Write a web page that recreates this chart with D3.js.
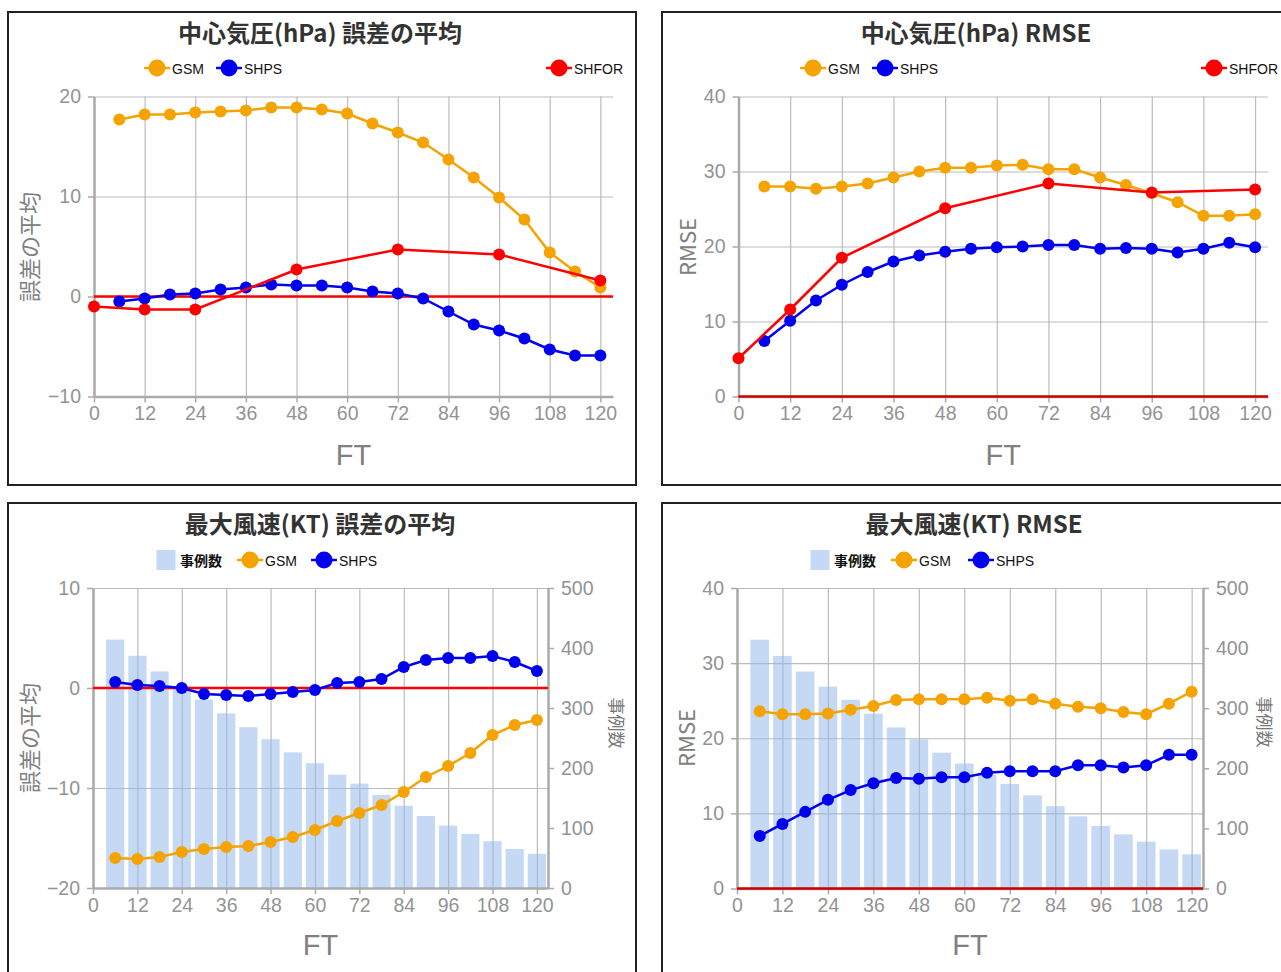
<!DOCTYPE html>
<html>
<head>
<meta charset="utf-8">
<script src="https://cdn.jsdelivr.net/npm/d3@7"></script>
<style>
  body { margin: 0; background: #fff; }
  svg { display: block; }
</style>
</head>
<body>
<svg id="chart" width="1281" height="972"></svg>
<script>
// ---- data -------------------------------------------------------------
const forecastHours = [6, 12, 18, 24, 30, 36, 42, 48, 54, 60, 66, 72, 78, 84, 90, 96, 102, 108, 114, 120];
const shforHours = [0, 12, 24, 48, 72, 96, 120];
const ftTicks = [0, 12, 24, 36, 48, 60, 72, 84, 96, 108, 120];

const pressureBiasTicks = [-10, 0, 10, 20];
const pressureRmseTicks = [0, 10, 20, 30, 40];
const windBiasTicks = [-20, -10, 0, 10];
const windRmseTicks = [0, 10, 20, 30, 40];
const caseCountTicks = [0, 100, 200, 300, 400, 500];

// central pressure (hPa): mean error
const pressureBiasGSM = [17.7, 18.2, 18.2, 18.4, 18.5, 18.6, 18.9, 18.9, 18.7, 18.3, 17.3, 16.4, 15.4, 13.7, 11.9, 9.9, 7.7, 4.4, 2.5, 0.9];
const pressureBiasSHPS = [-0.5, -0.2, 0.2, 0.3, 0.7, 0.9, 1.2, 1.1, 1.1, 0.9, 0.5, 0.3, -0.2, -1.5, -2.8, -3.4, -4.2, -5.3, -5.9, -5.9];
const pressureBiasSHFOR = [-1.0, -1.3, -1.3, 2.7, 4.7, 4.2, 1.6];

// central pressure (hPa): RMSE
const pressureRmseGSM = [28.0, 28.0, 27.7, 28.0, 28.4, 29.2, 30.0, 30.5, 30.5, 30.8, 30.9, 30.3, 30.3, 29.2, 28.2, 27.1, 25.9, 24.1, 24.1, 24.3];
const pressureRmseSHPS = [7.4, 10.1, 12.8, 14.9, 16.6, 18.0, 18.8, 19.3, 19.7, 19.9, 20.0, 20.2, 20.2, 19.7, 19.8, 19.7, 19.2, 19.7, 20.5, 19.9];
const pressureRmseSHFOR = [5.1, 11.6, 18.5, 25.1, 28.4, 27.2, 27.6];

// maximum wind (KT): mean error and RMSE
const windBiasGSM = [-17.0, -17.1, -16.9, -16.4, -16.1, -15.9, -15.8, -15.4, -14.9, -14.2, -13.3, -12.5, -11.7, -10.4, -8.9, -7.8, -6.5, -4.7, -3.7, -3.2];
const windBiasSHPS = [0.6, 0.3, 0.2, 0.0, -0.6, -0.7, -0.8, -0.6, -0.4, -0.2, 0.5, 0.6, 0.9, 2.1, 2.8, 3.0, 3.0, 3.2, 2.6, 1.7];
const windRmseGSM = [23.6, 23.2, 23.2, 23.3, 23.8, 24.3, 25.1, 25.2, 25.2, 25.2, 25.4, 25.0, 25.2, 24.6, 24.2, 24.0, 23.5, 23.2, 24.6, 26.2];
const windRmseSHPS = [7.0, 8.6, 10.2, 11.8, 13.1, 14.0, 14.7, 14.6, 14.8, 14.8, 15.4, 15.6, 15.6, 15.6, 16.4, 16.4, 16.1, 16.4, 17.8, 17.8];

// number of cases per forecast time
const caseCounts = [414, 387, 361, 336, 314, 291, 268, 248, 226, 208, 189, 174, 155, 137, 120, 104, 90, 78, 65, 57];

// ---- styling ----------------------------------------------------------
const COLORS = { GSM: "#f5a300", SHPS: "#0000ee", SHFOR: "#ff0000", bar: "rgb(150,185,235)" };
const LATIN = "'Liberation Sans', Arial, sans-serif";
const CJK = "'Noto Sans CJK JP', 'Noto Sans', sans-serif";

const pair = (hours, values) => hours.map((h, i) => ({ h, v: values[i] }));

const panels = [
  {
    frame: [8, 12, 628, 473],
    plot: { l: 94, r: 613, t: 96.5, b: 396.5 },
    yDomain: [-10, 20], yTicks: pressureBiasTicks,
    title: "中心気圧(hPa) 誤差の平均", titleX: 320, titleY: 31,
    yLabel: "誤差の平均", yLabelPos: [28, 247],
    ftY: 455, zeroColor: "#ff0000",
    legendY: 68,
    legend: [
      { type: "line", key: "GSM", cx: 157 },
      { type: "line", key: "SHPS", cx: 229 },
      { type: "line", key: "SHFOR", cx: 559 }
    ],
    series: [
      { key: "GSM", data: pair(forecastHours, pressureBiasGSM) },
      { key: "SHPS", data: pair(forecastHours, pressureBiasSHPS) },
      { key: "SHFOR", data: pair(shforHours, pressureBiasSHFOR) }
    ]
  },
  {
    frame: [662, 12, 630, 473],
    plot: { l: 738.5, r: 1268, t: 96.5, b: 396.5 },
    yDomain: [0, 40], yTicks: pressureRmseTicks,
    title: "中心気圧(hPa) RMSE", titleX: 976, titleY: 31,
    yLabel: "RMSE", yLabelPos: [686, 247],
    ftY: 455, zeroColor: "#cc0000",
    legendY: 68,
    legend: [
      { type: "line", key: "GSM", cx: 813 },
      { type: "line", key: "SHPS", cx: 885 },
      { type: "line", key: "SHFOR", cx: 1214 }
    ],
    series: [
      { key: "GSM", data: pair(forecastHours, pressureRmseGSM) },
      { key: "SHPS", data: pair(forecastHours, pressureRmseSHPS) },
      { key: "SHFOR", data: pair(shforHours, pressureRmseSHFOR) }
    ]
  },
  {
    frame: [8, 503, 628, 480],
    plot: { l: 93, r: 548, t: 588, b: 888 },
    yDomain: [-20, 10], yTicks: windBiasTicks,
    title: "最大風速(KT) 誤差の平均", titleX: 320, titleY: 522,
    yLabel: "誤差の平均", yLabelPos: [28, 738],
    rightLabel: "事例数", rightLabelPos: [617, 723],
    ftY: 945, zeroColor: "#ff0000",
    legendY: 560,
    counts: pair(forecastHours, caseCounts),
    legend: [
      { type: "bar", label: "事例数", cx: 166 },
      { type: "line", key: "GSM", cx: 250 },
      { type: "line", key: "SHPS", cx: 324 }
    ],
    series: [
      { key: "GSM", data: pair(forecastHours, windBiasGSM) },
      { key: "SHPS", data: pair(forecastHours, windBiasSHPS) }
    ]
  },
  {
    frame: [662, 503, 630, 480],
    plot: { l: 737, r: 1203, t: 588, b: 888.5 },
    yDomain: [0, 40], yTicks: windRmseTicks,
    title: "最大風速(KT) RMSE", titleX: 974, titleY: 522,
    yLabel: "RMSE", yLabelPos: [685, 738],
    rightLabel: "事例数", rightLabelPos: [1265, 722],
    ftY: 945, zeroColor: "#cc0000",
    legendY: 560,
    counts: pair(forecastHours, caseCounts),
    legend: [
      { type: "bar", label: "事例数", cx: 820 },
      { type: "line", key: "GSM", cx: 904 },
      { type: "line", key: "SHPS", cx: 981 }
    ],
    series: [
      { key: "GSM", data: pair(forecastHours, windRmseGSM) },
      { key: "SHPS", data: pair(forecastHours, windRmseSHPS) }
    ]
  }
];

// ---- drawing ----------------------------------------------------------
const svg = d3.select("#chart");
svg.append("rect").attr("width", 1281).attr("height", 972).attr("fill", "#fff");

function styleTicks(sel) {
  sel.selectAll("text")
    .attr("font-family", LATIN)
    .attr("font-size", 19.5)
    .attr("fill", "#939393");
  sel.selectAll(".tick line").attr("stroke", "#aaa").attr("stroke-width", 1.5);
  sel.select(".domain").attr("stroke", "#aaa").attr("stroke-width", 2.5);
}

function drawPanel(p) {
  const g = svg.append("g");
  const [fx, fy, fw, fh] = p.frame;
  g.append("rect")
    .attr("x", fx).attr("y", fy).attr("width", fw).attr("height", fh)
    .attr("fill", "#fff").attr("stroke", "#222").attr("stroke-width", 2);

  const x = d3.scaleLinear().domain([0, 123]).range([p.plot.l, p.plot.r]);
  const y = d3.scaleLinear().domain(p.yDomain).range([p.plot.b, p.plot.t]);
  const plotW = p.plot.r - p.plot.l;
  const plotH = p.plot.b - p.plot.t;

  // grid
  g.append("g")
    .attr("transform", `translate(0,${p.plot.b})`)
    .call(d3.axisBottom(x).tickValues(ftTicks).tickSize(-plotH).tickFormat(""))
    .call(s => { s.select(".domain").remove(); s.selectAll("line").attr("stroke", "#bbb").attr("stroke-width", 1.2); });
  g.append("g")
    .attr("transform", `translate(${p.plot.l},0)`)
    .call(d3.axisLeft(y).tickValues(p.yTicks).tickSize(-plotW).tickFormat(""))
    .call(s => { s.select(".domain").remove(); s.selectAll("line").attr("stroke", "#bbb").attr("stroke-width", 1.2); });

  // case-count bars on the secondary axis
  if (p.counts) {
    const y2 = d3.scaleLinear().domain([0, 500]).range([p.plot.b, p.plot.t]);
    const bw = (x(6) - x(0)) * 0.82;
    g.append("g").selectAll("rect").data(p.counts).enter().append("rect")
      .attr("x", d => x(d.h) - bw / 2)
      .attr("y", d => y2(d.v))
      .attr("width", bw)
      .attr("height", d => y2(0) - y2(d.v))
      .attr("fill", COLORS.bar)
      .attr("fill-opacity", 0.55);

    g.append("g")
      .attr("transform", `translate(${p.plot.r},0)`)
      .call(d3.axisRight(y2).tickValues(caseCountTicks).tickSizeInner(6).tickSizeOuter(0).tickPadding(7))
      .call(styleTicks);
  }

  // axes
  g.append("g")
    .attr("transform", `translate(0,${p.plot.b})`)
    .call(d3.axisBottom(x).tickValues(ftTicks).tickSizeInner(6).tickSizeOuter(0).tickPadding(4))
    .call(styleTicks);
  g.append("g")
    .attr("transform", `translate(${p.plot.l},0)`)
    .call(d3.axisLeft(y).tickValues(p.yTicks).tickSizeInner(6).tickSizeOuter(0).tickPadding(7))
    .call(styleTicks);

  // zero reference line
  g.append("line")
    .attr("x1", p.plot.l).attr("x2", p.plot.r)
    .attr("y1", y(0)).attr("y2", y(0))
    .attr("stroke", p.zeroColor).attr("stroke-width", 2.5);

  // series
  const line = d3.line().x(d => x(d.h)).y(d => y(d.v));
  p.series.forEach(s => {
    const sg = g.append("g");
    sg.append("path")
      .attr("d", line(s.data))
      .attr("fill", "none")
      .attr("stroke", COLORS[s.key])
      .attr("stroke-width", 2.5);
    sg.selectAll("circle").data(s.data).enter().append("circle")
      .attr("cx", d => x(d.h)).attr("cy", d => y(d.v))
      .attr("r", 6)
      .attr("fill", COLORS[s.key]);
  });

  // title
  g.append("text")
    .attr("x", p.titleX).attr("y", p.titleY)
    .attr("text-anchor", "middle").attr("dominant-baseline", "central")
    .attr("font-family", CJK).attr("font-weight", 600).attr("font-size", 24)
    .attr("fill", "#333")
    .text(p.title);

  // legend
  p.legend.forEach(item => {
    const ly = p.legendY;
    if (item.type === "bar") {
      g.append("rect")
        .attr("x", item.cx - 9.5).attr("y", ly - 10).attr("width", 19).attr("height", 20)
        .attr("fill", COLORS.bar).attr("fill-opacity", 0.55);
      g.append("text")
        .attr("x", item.cx + 14).attr("y", ly)
        .attr("dominant-baseline", "central")
        .attr("font-family", CJK).attr("font-weight", 700).attr("font-size", 14)
        .attr("fill", "#111").text(item.label);
    } else {
      g.append("line")
        .attr("x1", item.cx - 13).attr("x2", item.cx + 13)
        .attr("y1", ly).attr("y2", ly)
        .attr("stroke", COLORS[item.key]).attr("stroke-width", 2.5);
      g.append("circle")
        .attr("cx", item.cx).attr("cy", ly).attr("r", 8.5)
        .attr("fill", COLORS[item.key]);
      g.append("text")
        .attr("x", item.cx + 15).attr("y", ly + 1)
        .attr("dominant-baseline", "central")
        .attr("font-family", LATIN).attr("font-size", 14)
        .attr("fill", "#111").text(item.key);
    }
  });

  // axis titles
  g.append("text")
    .attr("transform", `translate(${p.yLabelPos[0]},${p.yLabelPos[1]}) rotate(-90)`)
    .attr("text-anchor", "middle").attr("dominant-baseline", "central")
    .attr("font-family", CJK).attr("font-size", 22)
    .attr("fill", "#808080").text(p.yLabel);
  if (p.rightLabel) {
    g.append("text")
      .attr("transform", `translate(${p.rightLabelPos[0]},${p.rightLabelPos[1]}) rotate(90)`)
      .attr("text-anchor", "middle").attr("dominant-baseline", "central")
      .attr("font-family", CJK).attr("font-size", 17)
      .attr("fill", "#777").text(p.rightLabel);
  }
  g.append("text")
    .attr("x", (p.plot.l + p.plot.r) / 2).attr("y", p.ftY)
    .attr("text-anchor", "middle").attr("dominant-baseline", "central")
    .attr("font-family", LATIN).attr("font-size", 29)
    .attr("fill", "#808080").text("FT");
}

panels.forEach(drawPanel);
</script>
</body>
</html>
